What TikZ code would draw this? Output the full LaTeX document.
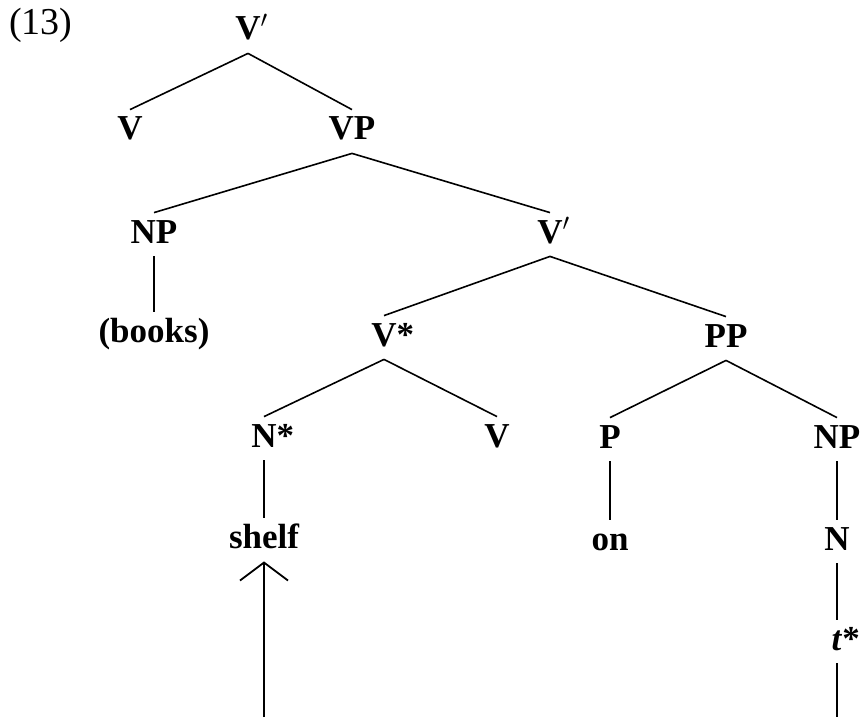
\documentclass[tikz,border=0pt]{standalone}
\usepackage{fontspec}
\setmainfont{Liberation Serif}
\usetikzlibrary{arrows.meta, positioning}

\begin{document}
\begin{tikzpicture}[
    x=0.5pt, y=-0.5pt,
    font=\fontsize{17.5}{20}\selectfont,
    cat/.style={inner sep=0pt, anchor=base, text height=15pt, text depth=6.5pt, font=\fontsize{17.5}{20}\selectfont\bfseries},
    branch/.style={line width=0.8pt},
    arrow/.style={-{Straight Barb[length=9pt, width=24pt, line width=0.9pt]}, line width=1pt}
]
    \useasboundingbox (0,0) rectangle (866,717);

    % Example number
    \node[anchor=base, font=\fontsize{19}{22}\selectfont] (num) at (41,35) {(13)};

    % Categories
    \node[cat] (vbar_top) at (248,40) {V\rlap{$'$}};
    \node[cat] (v_top) at (130,140) {V};
    \node[cat] (vp) at (352,140) {VP};
    \node[cat] (np_obj) at (154,243) {NP};
    \node[cat] (vbar_mid) at (550,243) {V\rlap{$'$}};
    \node[cat] (books) at (154,342) {(books)};
    \node[cat] (vstar) at (384,346) {V\rlap{*}};
    \node[cat] (pp) at (726,347) {PP};
    \node[cat] (nstar) at (264,447) {N\rlap{*}};
    \node[cat] (v_low) at (497,447) {V};
    \node[cat] (p) at (610,448) {P};
    \node[cat] (np_loc) at (837,448) {NP};

    % Words and trace
    \node[cat] (shelf) at (264,548) {shelf};
    \node[cat] (on) at (610,550) {on};
    \node[cat] (n) at (837,550) {N};
    \node[cat] (trace) at (837,650) {\textit{t}\rlap{*}};
    \coordinate (shelf_foot) at (264,717);
    \coordinate (trace_foot) at (837,717);

    % Branches
    \draw[branch] (vbar_top.south) -- (v_top.north);
    \draw[branch] (vbar_top.south) -- (vp.north);
    \draw[branch] (vp.south) -- (np_obj.north);
    \draw[branch] (vp.south) -- (vbar_mid.north);
    \draw[branch] (np_obj.south) -- (books.north);
    \draw[branch] (vbar_mid.south) -- (vstar.north);
    \draw[branch] (vbar_mid.south) -- (pp.north);
    \draw[branch] (vstar.south) -- (nstar.north);
    \draw[branch] (vstar.south) -- (v_low.north);
    \draw[branch] (pp.south) -- (p.north);
    \draw[branch] (pp.south) -- (np_loc.north);
    \draw[branch] (nstar.south) -- (shelf.north);
    \draw[branch] (p.south) -- (on.north);
    \draw[branch] (np_loc.south) -- (n.north);
    \draw[branch] (n.south) -- (trace.north);
    \draw[branch] (trace.south) -- (trace_foot);

    % Movement
    \draw[arrow] (shelf_foot) -- (shelf.south);

\end{tikzpicture}
\end{document}
